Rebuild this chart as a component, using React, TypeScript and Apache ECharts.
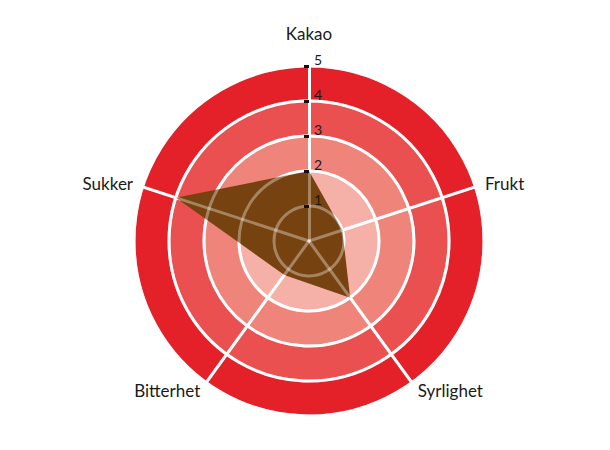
import React, { useEffect, useRef } from 'react';
import * as echarts from 'echarts';

// indicator order runs counter-clockwise in ECharts, starting at the top
const indicators = ['Kakao', 'Sukker', 'Bitterhet', 'Syrlighet', 'Frukt'];
const scores = [2, 4, 1.2, 2, 1];
const maxScore = 5;
const tickValues = [1, 2, 3, 4, 5];

// rings from the inside out
const ringColors = ['#f5b1a8', '#f5b1a8', '#ef847b', '#e9504f', '#e42129'];

const App: React.FC = () => {
  const chartRef = useRef<HTMLDivElement>(null);

  useEffect(() => {
    document.body.style.margin = '0';
    const chart = echarts.init(chartRef.current, null, { renderer: 'svg' });

    const center = [309, 241];
    const radius = 175;
    const overlayLine = 'rgba(255,255,255,0.35)';

    const option = {
      animation: false,
      radar: [
        {
          center,
          radius,
          startAngle: 90,
          splitNumber: 5,
          shape: 'circle',
          nameGap: 10,
          indicator: indicators.map((name, i) => ({
            name,
            min: 0,
            max: maxScore,
            axisTick: { show: i === 0 },
          })),
          axisName: {
            color: '#1a1a1a',
            fontSize: 17,
            fontFamily: 'Lato',
            formatter: (name: string) => (name === 'Kakao' ? `{top|${name}}` : name),
            rich: {
              top: { padding: [0, 0, 14, 0], fontSize: 17, fontFamily: 'Lato', color: '#1a1a1a' },
            },
          },
          splitArea: { show: true, areaStyle: { color: ringColors } },
          splitLine: { lineStyle: { color: '#ffffff', width: 3 } },
          axisLine: { lineStyle: { color: '#ffffff', width: 3 } },
          axisTick: {
            show: false,
            length: 5,
            lineStyle: { color: '#111', width: 3 },
          },
          axisLabel: { show: false },
        },
        {
          // overlay: lines seen through the brown area, plus the value labels
          center,
          radius,
          startAngle: 90,
          splitNumber: 5,
          shape: 'circle',
          z: 3,
          indicator: indicators.map((name, i) => ({
            name,
            min: 0,
            max: maxScore,
            axisTick: { show: i === 0 },
            axisLabel: { show: i === 0 },
          })),
          axisName: { show: false },
          splitArea: { show: false },
          splitLine: { lineStyle: { color: overlayLine, width: 3 } },
          axisLine: { lineStyle: { color: overlayLine, width: 3 } },
          axisTick: {
            show: false,
            inside: true,
            length: 5,
            customValues: tickValues,
            lineStyle: { color: '#111', width: 3 },
          },
          axisLabel: {
            show: false,
            customValues: tickValues,
            color: '#1a1a1a',
            fontSize: 14,
            fontFamily: 'Lato',
            align: 'left',
            verticalAlign: 'bottom',
            margin: -5,
          },
        },
      ],
      series: [
        {
          type: 'radar',
          radarIndex: 0,
          symbol: 'none',
          lineStyle: { width: 0 },
          areaStyle: { color: '#76420f', opacity: 1 },
          data: [{ value: scores, name: 'Smak' }],
        },
      ],
    };

    chart.setOption(option);

    return () => {
      chart.dispose();
    };
  }, []);

  return <div ref={chartRef} style={{ width: '610px', height: '450px' }} />;
};

export default App;
